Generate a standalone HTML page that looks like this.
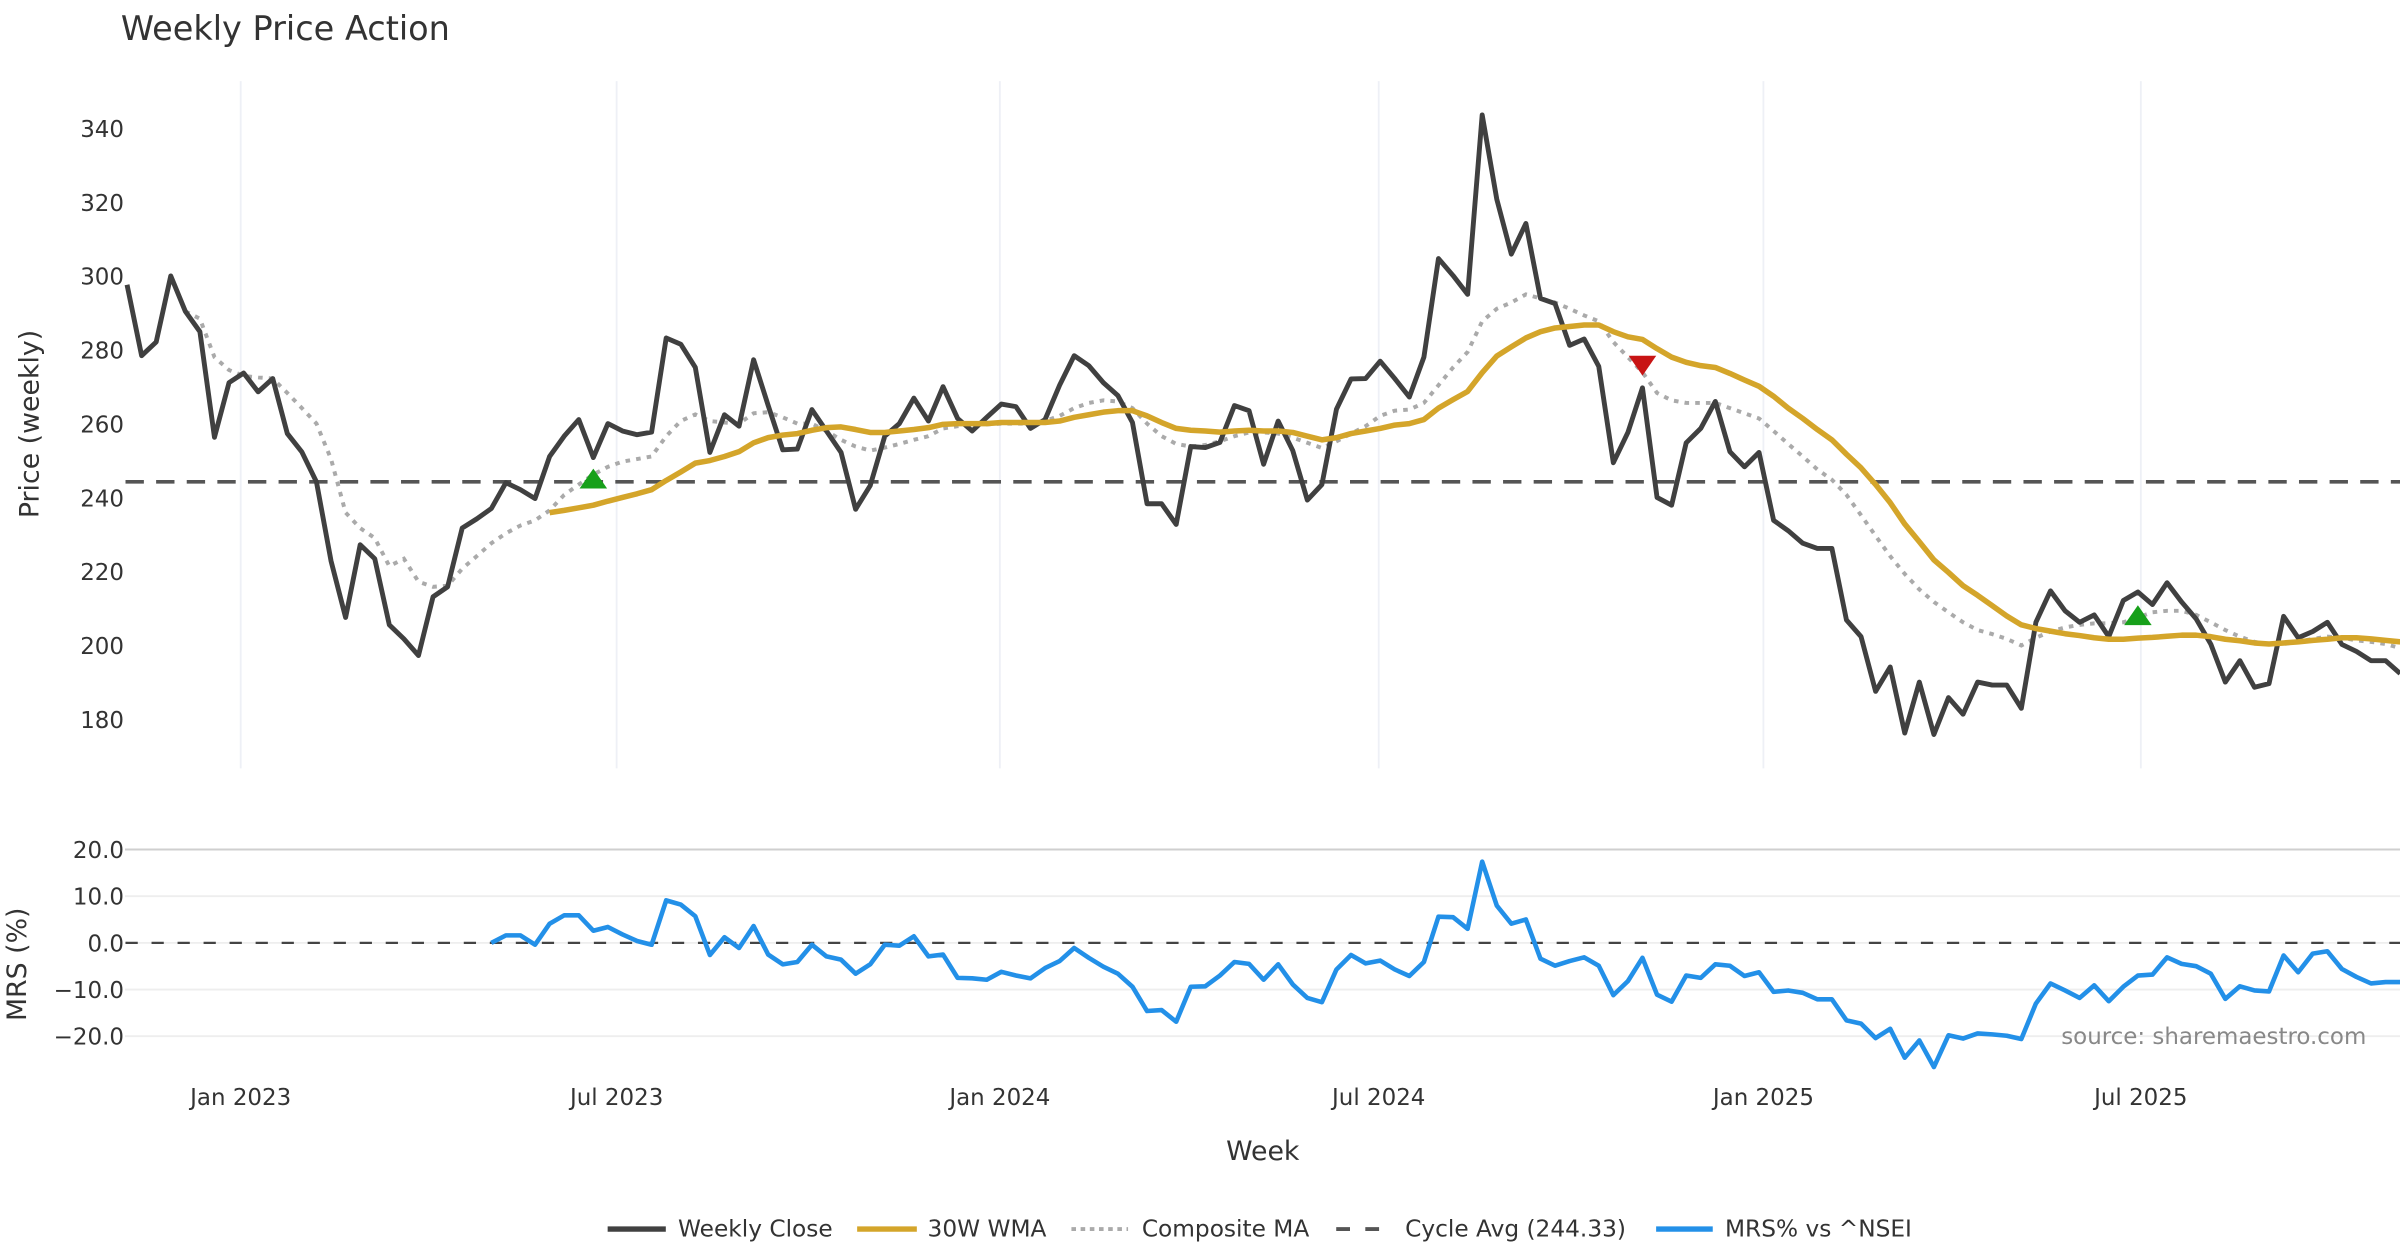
<!DOCTYPE html>
<html><head><meta charset="utf-8"><style>
html,body{margin:0;padding:0;background:#fff;}
svg{display:block;font-family:"DejaVu Sans","Liberation Sans",sans-serif;}
</style></head><body>
<svg id="chart" width="2400" height="1260" viewBox="0 0 1568 823.2" xmlns="http://www.w3.org/2000/svg">
<text x="79" y="26" font-size="21.9" fill="#333">Weekly Price Action</text>
<g id="grid"></g>
<g id="series"></g>
<g id="axes"></g>
<text transform="translate(25,277) rotate(-90)" text-anchor="middle" font-size="17.5" fill="#333">Price (weekly)</text>
<text transform="translate(17,630) rotate(-90)" text-anchor="middle" font-size="17.5" fill="#333">MRS (%)</text>
<text x="825" y="758" text-anchor="middle" font-size="17.5" fill="#333">Week</text>
<text x="1546" y="682" text-anchor="end" font-size="15" fill="#888">source: sharemaestro.com</text>
<g font-size="15.2" fill="#333">
 <g><line x1="397" y1="803" x2="435" y2="803" stroke="#404040" stroke-width="3.5"/><text x="443" y="808">Weekly Close</text></g>
 <g><line x1="560" y1="803" x2="599" y2="803" stroke="#D4A52A" stroke-width="3.5"/><text x="606" y="808">30W WMA</text></g>
 <g><line x1="700" y1="803" x2="737" y2="803" stroke="#aaa" stroke-width="2.5" stroke-dasharray="3,3"/><text x="746" y="808">Composite MA</text></g>
 <g><line x1="873" y1="803" x2="910" y2="803" stroke="#555" stroke-width="2.5" stroke-dasharray="9,10"/><text x="918" y="808">Cycle Avg (244.33)</text></g>
 <g><line x1="1082" y1="803" x2="1119" y2="803" stroke="#2390e8" stroke-width="3.5"/><text x="1127" y="808">MRS% vs ^NSEI</text></g>
</g>
</svg>
<script>
const closeVals=[297.7,278.5,282.2,300.1,290.5,285.0,256.4,271.2,273.8,268.7,272.3,257.4,252.4,244.3,222.9,207.6,227.3,223.5,205.6,201.8,197.3,213.2,215.9,231.8,234.3,237.1,244.1,242.2,239.8,251.2,256.7,261.2,250.9,260.1,258.1,257.1,257.8,283.3,281.6,275.3,252.3,262.5,259.4,277.4,265.0,253.0,253.2,
263.9,258.1,252.3,236.9,243.3,256.7,260.1,267.0,260.8,270.1,261.5,258.1,261.8,265.4,264.7,258.8,261.2,270.5,278.5,275.8,271.2,267.7,260.4,238.4,238.4,232.8,253.9,253.6,255.0,265.0,263.6,249.1,260.8,252.8,239.4,243.6,264.0,272.2,272.3,277.0,272.3,267.3,278.1,304.8,300.2,295.1,343.7,320.9,306.0,314.3,294.0,292.6,281.3,283.0,275.6,
249.5,257.7,269.8,240.1,238.0,254.9,258.8,266.1,252.5,248.4,252.3,233.9,231.1,227.7,226.3,226.3,206.9,202.4,187.6,194.2,176.3,190.1,175.9,185.9,181.4,190.1,189.3,189.3,183.0,206.3,214.8,209.4,206.3,208.3,202.4,212.2,214.5,211.1,217.0,211.8,207.2,200.4,190.1,195.9,188.7,189.7,207.9,202.1,203.8,206.3,200.3,198.4,195.9,195.9,192.4];
const wmaStart=29;
const wmaVals=[236.0,236.6,237.3,238.0,239.1,240.1,241.1,242.2,244.7,247.0,249.4,250.1,251.2,252.5,254.9,256.3,257.0,257.4,
258.3,259.0,259.2,258.5,257.7,257.7,258.1,258.5,259.0,259.9,260.1,260.1,260.1,260.4,260.4,260.4,260.4,260.8,261.8,262.5,263.2,263.6,263.6,262.2,260.4,258.8,258.3,258.1,257.8,258.1,258.3,258.1,258.1,257.7,256.7,255.7,256.3,257.4,258.1,258.8,259.7,260.1,261.2,264.3,266.6,268.8,273.9,278.4,280.9,283.3,285.0,286.0,286.4,286.8,286.8,
285.0,283.6,282.9,280.4,278.1,276.7,275.8,275.3,273.7,271.9,270.2,267.5,264.3,261.5,258.5,255.7,251.8,248.1,243.6,238.7,232.9,228.1,223.2,219.8,216.2,213.6,210.8,208.0,205.6,204.6,203.9,203.2,202.7,202.1,201.7,201.7,202.0,202.2,202.5,202.8,202.8,202.4,201.7,201.3,200.7,200.4,200.7,201.0,201.4,201.7,202.1,202.1,201.8,201.4,201.0];
const compStart=4;
const compVals=[290.5,288.5,278.1,274.6,273.0,272.6,272.3,268.4,264.3,260.1,250.5,236.0,231.8,229.1,221.5,223.5,217.3,215.9,216.2,220.8,224.2,227.7,230.4,232.5,233.9,236.6,240.8,243.6,246.3,248.4,249.8,250.5,251.2,256.7,260.8,262.6,260.8,260.4,260.1,262.9,263.2,261.8,260.1,
260.1,258.1,255.7,253.9,252.8,253.6,254.6,255.7,256.7,258.8,259.4,259.7,259.9,260.1,260.1,260.1,260.8,262.2,264.3,265.7,266.4,266.1,264.3,260.1,256.7,254.6,253.9,254.3,255.3,256.7,257.7,257.7,257.4,256.3,254.9,253.5,255.3,257.4,259.4,262.2,263.6,263.9,265.7,270.5,275.3,279.5,287.8,291.2,292.9,295.1,294.0,292.9,291.2,289.4,287.8,
282.2,278.1,274.0,268.4,266.4,265.7,265.7,265.7,264.3,262.9,261.5,258.1,254.6,251.2,247.7,244.9,240.8,235.3,229.7,224.2,219.4,215.2,211.8,209.0,206.3,204.2,203.1,201.8,200.0,202.1,203.8,204.9,205.6,206.0,206.0,206.3,207.6,209.0,209.4,209.4,208.3,206.3,204.2,202.4,201.0,200.3,200.4,201.0,201.8,202.4,202.1,201.4,201.0,200.4,199.3];
const cycleAvg=244.33;
const mrsStart=25;
const mrsVals=[0,1.6,1.6,-0.4,4.1,5.9,5.9,2.6,3.4,1.8,0.4,-0.4,9.1,8.2,5.7,-2.6,1.2,-1.1,3.6,-2.5,-4.6,-4.1,-0.4,-2.9,-3.6,-6.6,-4.6,-0.4,-0.6,1.4,-2.9,-2.5,-7.5,-7.6,-7.9,-6.2,-7.0,-7.6,-5.4,-3.9,-1.1,-3.2,-5.1,-6.6,-9.4,-14.6,-14.4,-16.9,-9.4,-9.3,-7.0,-4.1,-4.5,-7.9,-4.6,-8.9,-11.8,-12.7,-5.7,-2.6,-4.4,-3.8,-5.7,-7.1,-4.1,
5.6,5.5,3.0,17.4,8.0,4.1,5.0,-3.4,-4.9,-3.9,-3.1,-4.9,-11.2,-8.2,-3.2,-11.1,-12.6,-7.0,-7.5,-4.6,-4.9,-7.1,-6.3,-10.5,-10.2,-10.7,-12.1,-12.1,-16.6,-17.3,-20.4,-18.4,-24.6,-20.9,-26.6,-19.8,-20.5,-19.4,-19.6,-19.9,-20.6,-13.0,-8.7,-10.2,-11.8,-9.1,-12.5,-9.4,-7.0,-6.8,-3.1,-4.5,-5.0,-6.6,-12.0,-9.3,-10.2,-10.4,-2.7,-6.3,-2.3,-1.8,-5.6,-7.3,-8.7,-8.4,-8.4];
const buyIdx=[32,138];
const buyVals=[245,208];
const sellIdx=[104];
const sellVals=[276];
const priceTicks=[180,200,220,240,260,280,300,320,340];
const mrsTicks=[20,10,0,-10,-20];
const dateLabels=["Jan 2023","Jul 2023","Jan 2024","Jul 2024","Jan 2025","Jul 2025"];
const dateIdx=[7.8,33.6,59.9,85.9,112.3,138.2];

const NS="http://www.w3.org/2000/svg";
const X=i=>83+i*9.52;
const Y=v=>470-(v-180)*2.4125;
const M=v=>616-v*3.05;
function el(tag,attrs,parent){const e=document.createElementNS(NS,tag);for(const k in attrs)e.setAttribute(k,attrs[k]);parent.appendChild(e);return e;}
const grid=document.getElementById('grid'),ser=document.getElementById('series'),axes=document.getElementById('axes');

dateIdx.forEach((d,k)=>{
  const g=el('line',{x1:X(d),x2:X(d),y1:53,y2:502,stroke:'#eef0f6','stroke-width':1.2},grid);
  
  
  const t=el('text',{x:X(d),y:722,'text-anchor':'middle','font-size':15,fill:'#333'},axes);
  t.textContent=dateLabels[k];
  
  
});
priceTicks.forEach(v=>{
  const t=el('text',{x:81,y:Y(v)+5.5,'text-anchor':'end','font-size':15,fill:'#333'},axes);
  t.textContent=v;
  
  
});
mrsTicks.forEach(v=>{
  const ln=el('line',{x1:125/1.5306,x2:1568,y1:M(v),y2:M(v),stroke:v===20?'#cfcfcf':'#eeeeee','stroke-width':v===20?1.3:1.2},grid);
  
  
  const t=el('text',{x:81,y:M(v)+5.5,'text-anchor':'end','font-size':15,fill:'#333'},axes);
  t.textContent=(v<0?'\u2212':'')+Math.abs(v).toFixed(1);
  
  
});
const zl=el('line',{x1:82,x2:1568,y1:M(0),y2:M(0),stroke:'#444','stroke-width':1.5,'stroke-dasharray':'8,9'},grid);



function path(vals,start,f){return vals.map((v,i)=>(i?'L':'M')+X(start+i).toFixed(2)+','+f(v).toFixed(2)).join('');}
const ca=el('line',{x1:82,x2:1568,y1:Y(cycleAvg),y2:Y(cycleAvg),stroke:'#555','stroke-width':2.4,'stroke-dasharray':'12,8'},ser);


const cp=el('path',{d:path(compVals,compStart,Y),fill:'none',stroke:'#aaa','stroke-width':2.6,'stroke-dasharray':'3,4'},ser);


const cl=el('path',{d:path(closeVals,0,Y),fill:'none',stroke:'#404040','stroke-width':3.2,'stroke-linejoin':'round'},ser);


const wm=el('path',{d:path(wmaVals,wmaStart,Y),fill:'none',stroke:'#D4A52A','stroke-width':3.6,'stroke-linejoin':'round'},ser);


const mr=el('path',{d:path(mrsVals,mrsStart,M),fill:'none',stroke:'#2390e8','stroke-width':3,'stroke-linejoin':'round'},ser);


buyIdx.forEach((b,k)=>{
  const x=X(b),y=Y(buyVals[k]);
  const p=el('polygon',{points:`${x-9},${y+6} ${x+9},${y+6} ${x},${y-7}`,fill:'#17a01a'},ser);
  
  
});
sellIdx.forEach((b,k)=>{
  const x=X(b),y=Y(sellVals[k]);
  const p=el('polygon',{points:`${x-9},${y-6} ${x+9},${y-6} ${x},${y+7}`,fill:'#c81414'},ser);
  
  
});
</script>
</body></html>
